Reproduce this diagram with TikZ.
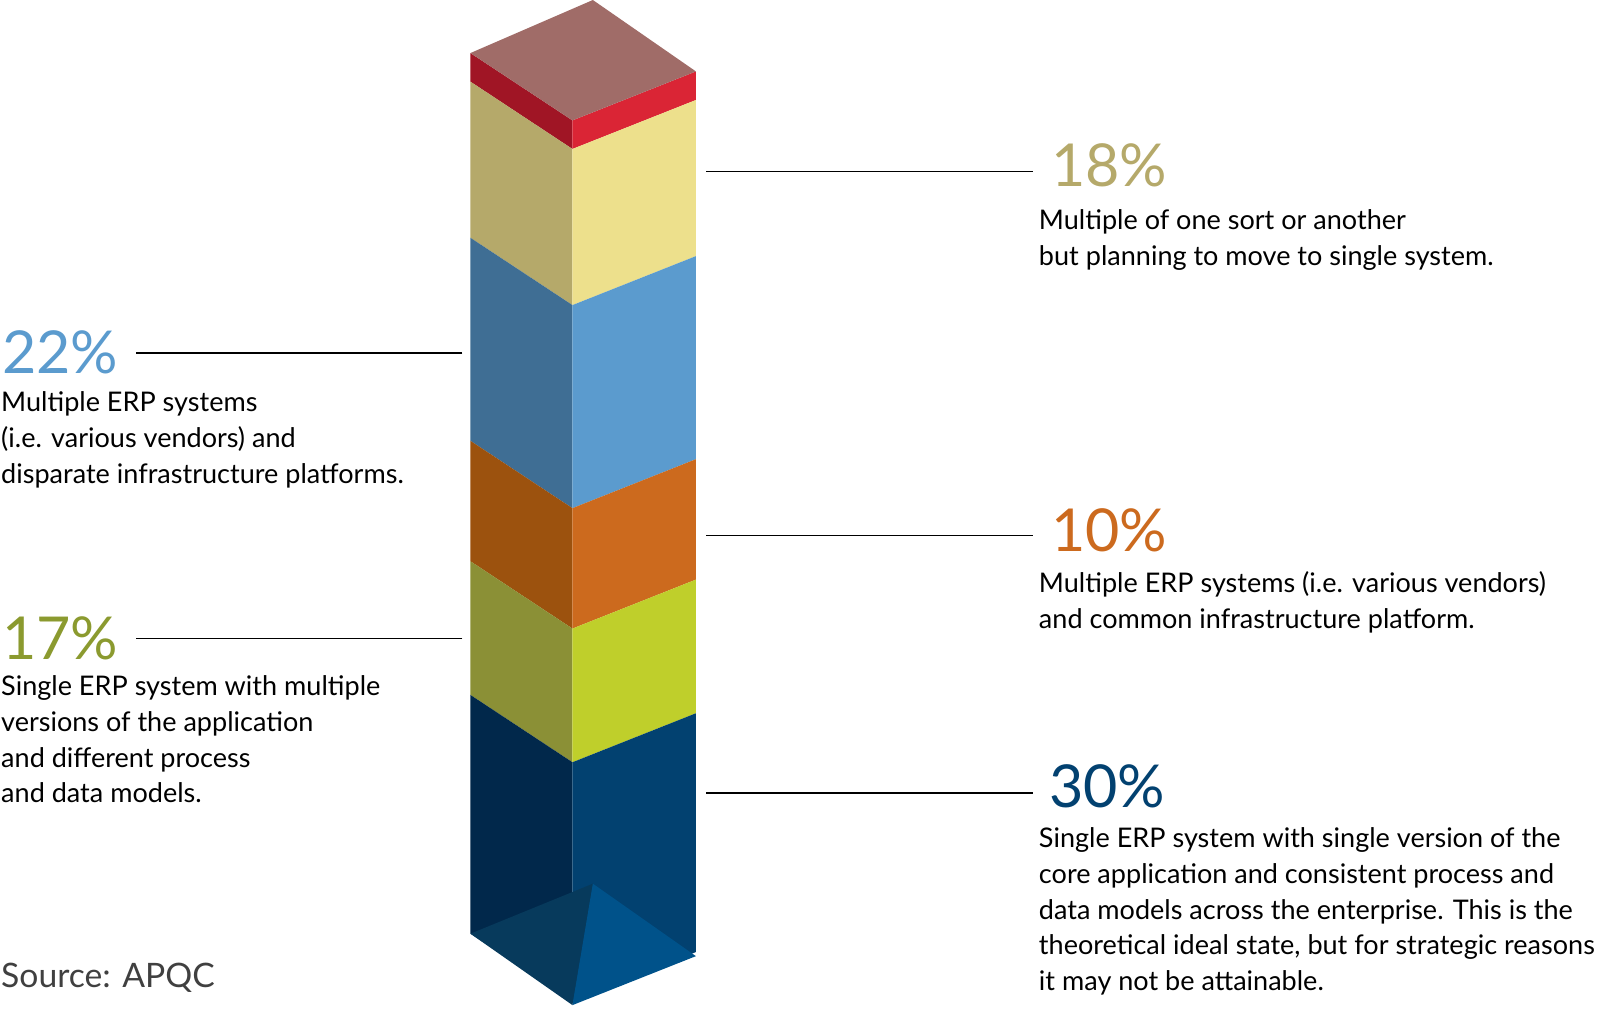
\documentclass[tikz,border=0pt]{standalone}
\usepackage{fontspec}
\setmainfont{Lato}
\definecolor{topface}{RGB}{160,108,104}
\definecolor{redL}{RGB}{160,21,37}
\definecolor{redR}{RGB}{218,37,53}
\definecolor{yelL}{RGB}{181,169,106}
\definecolor{yelR}{RGB}{237,224,140}
\definecolor{bluL}{RGB}{63,110,148}
\definecolor{bluR}{RGB}{91,155,206}
\definecolor{oraL}{RGB}{156,82,14}
\definecolor{oraR}{RGB}{204,106,30}
\definecolor{grnL}{RGB}{139,144,54}
\definecolor{grnR}{RGB}{191,207,43}
\definecolor{navL}{RGB}{1,40,75}
\definecolor{navR}{RGB}{2,65,112}
\definecolor{botL}{RGB}{7,58,92}
\definecolor{botR}{RGB}{0,82,138}
\definecolor{pct17}{RGB}{139,154,47}
\begin{document}
\begin{tikzpicture}[x=1pt,y=-1pt,
    pct/.style={anchor=base west, font=\fontsize{58}{58}\selectfont, inner sep=0},
    desc/.style={anchor=north west, font=\fontsize{26.5}{35}\selectfont, align=left, inner sep=0},
    leader/.style={line width=1.3pt}]
    \useasboundingbox (0,0) rectangle (1568,988);

    % column layers: left edge y, next left edge y, colours
    \foreach \a/\b/\cl/\cr in {52/80/redL/redR, 80/233/yelL/yelR, 233/432/bluL/bluR,
        432/550/oraL/oraR, 550/681/grnL/grnR, 681/915/navL/navR} {
        \fill[\cl] (461,\a) -- (561,\a+66) -- (561,\b+66) -- (461,\b) -- cycle;
        \fill[\cr] (561,\a+66) -- (682,\a+18) -- (682,\b+18) -- (561,\b+66) -- cycle;
    }
    \fill[topface] (581,0) -- (682,70) -- (561,118) -- (461,52) -- cycle;
    \fill[botL] (461,915) -- (581,866) -- (561,985) -- cycle;
    \fill[botR] (581,866) -- (682,937) -- (561,985) -- cycle;

    % right labels
    \node[pct, text=yelL] (p18) at (1030,183) {18\%};
    \node[desc] (d18) at (1018,205) {Multiple of one sort or another\\but planning to move to single system.};
    \node[pct, text=oraR] (p10) at (1030,540) {10\%};
    \node[desc] (d10) at (1018,560) {Multiple ERP systems (i.e. various vendors)\\and common infrastructure platform.};
    \node[pct, text=navR] (p30) at (1028,791) {30\%};
    \node[desc] (d30) at (1018,811) {Single ERP system with single version of the\\core application and consistent process and\\data models across the enterprise. This is the\\theoretical ideal state, but for strategic reasons\\it may not be attainable.};

    % left labels
    \node[pct, text=bluR] (p22) at (2,366) {22\%};
    \node[desc] (d22) at (1,384) {Multiple ERP systems\\(i.e. various vendors) and\\disparate infrastructure platforms.};
    \node[pct, text=pct17] (p17) at (2,646) {17\%};
    \node[desc] (d17) at (1,662) {Single ERP system with multiple\\versions of the application\\and different process\\and data models.};
    \node[anchor=base west, font=\fontsize{33}{33}\selectfont, inner sep=0, text=black!75] (src) at (1,968) {Source: APQC};

    % leaders
    \coordinate (c18) at (692,168);
    \coordinate (c10) at (692,525);
    \coordinate (c30) at (692,777);
    \coordinate (c22) at (453,346);
    \coordinate (c17) at (453,626);
    \draw[leader] (c18) -- (c18 -| 1012,0);
    \draw[leader] (c10) -- (c10 -| 1012,0);
    \draw[leader] (c30) -- (c30 -| 1012,0);
    \draw[leader] (c22) -- (c22 -| 133,0);
    \draw[leader] (c17) -- (c17 -| 133,0);
\end{tikzpicture}
\end{document}
